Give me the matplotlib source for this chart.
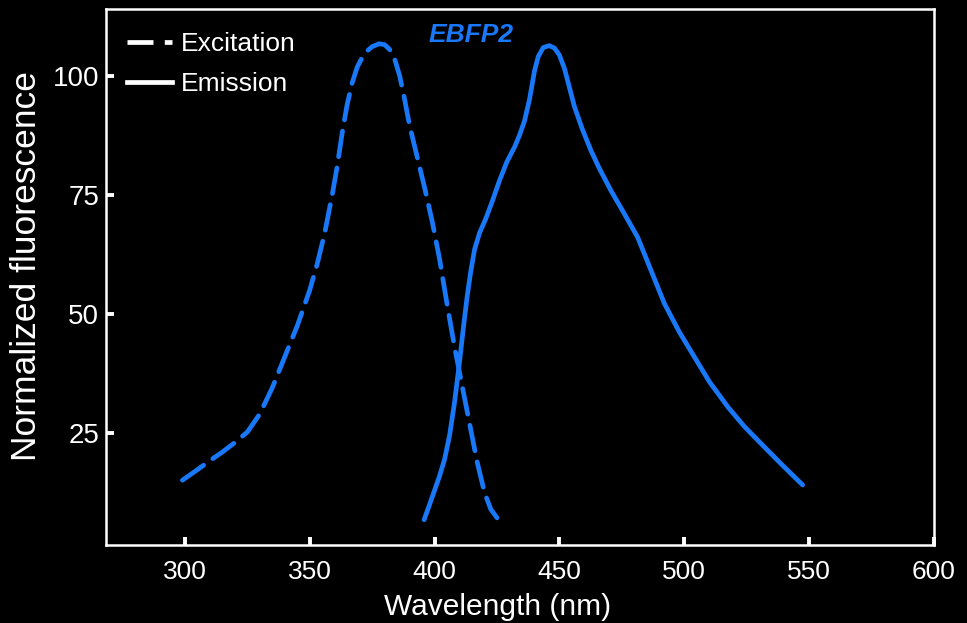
import matplotlib
matplotlib.use("Agg")
import matplotlib.pyplot as plt
from matplotlib.lines import Line2D

# excitation spectrum (dashed)
ex_nm = [299, 305, 310, 315, 320, 325, 330, 335, 340, 345, 350, 353, 356,
         359, 361, 363, 365, 367, 369, 371, 373, 375, 377.8, 380, 382, 384,
         386, 388, 390, 393, 396, 399, 402, 405, 408, 411, 414, 417, 420,
         422.5, 425]
ex_val = [15.1, 17.3, 19.2, 21.0, 23.0, 25.2, 29.0, 34.5, 41.0, 47.5, 55.0,
          60.5, 67.0, 75.0, 81.0, 88.0, 94.0, 98.5, 101.8, 103.8, 105.2,
          106.1, 106.7, 106.5, 105.5, 103.5, 100.0, 95.0, 89.5, 83.0, 76.5,
          69.5, 61.5, 52.0, 43.0, 35.0, 27.0, 19.0, 12.5, 9.0, 7.2]

# emission spectrum (solid)
em_nm = [395.8, 398, 400, 402, 404, 406, 408, 410, 411.5, 413, 414.5, 416,
         418, 420.5, 423, 426, 429, 432, 434, 436, 438, 440, 441.5, 443.5,
         445.9, 448, 450, 452, 454, 456, 459, 462.6, 466, 470.6, 476, 481.3,
         486, 492, 498, 504, 510, 517.4, 524, 530.7, 539, 547.4]
em_val = [6.8, 10.0, 13.0, 16.0, 19.5, 24.5, 31.5, 40.0, 47.0, 53.5, 59.0,
          63.5, 67.0, 70.0, 73.5, 78.0, 82.0, 85.0, 87.5, 90.5, 95.0, 101.0,
          104.0, 105.9, 106.3, 105.8, 104.3, 101.5, 97.5, 93.5, 89.0, 84.3,
          80.5, 75.9, 71.0, 66.1, 60.0, 52.2, 46.2, 41.0, 35.8, 30.5, 26.4,
          22.8, 18.4, 14.1]

x_ticks = [300, 350, 400, 450, 500, 550, 600]
y_ticks = [25, 50, 75, 100]

blue = "#1878f8"
font = ["Liberation Sans", "DejaVu Sans"]
dash = (5.5, 2.4)
lw = 3.4

fig = plt.figure(figsize=(9.67, 6.23), dpi=100, facecolor="black")
ax = fig.add_axes([0.1096, 0.1252, 0.8563, 0.8604], facecolor="black")

ax.plot(ex_nm, ex_val, color=blue, lw=lw, dashes=dash,
        dash_capstyle="round", dash_joinstyle="round")
ax.plot(em_nm, em_val, color=blue, lw=lw, solid_capstyle="round",
        solid_joinstyle="round")

ax.set_xlim(268.4, 600)
ax.set_ylim(1.5, 114)
ax.set_xticks(x_ticks)
ax.set_yticks(y_ticks)

for s in ax.spines.values():
    s.set_color("white")
    s.set_linewidth(1.8)

ax.tick_params(direction="in", length=6, width=2.8, color="white",
               labelcolor="white")
ax.tick_params(axis="x", pad=10.5)
ax.tick_params(axis="y", pad=5)
for lab in ax.get_xticklabels():
    lab.set_fontfamily(font)
    lab.set_fontsize(19)
for lab in ax.get_yticklabels():
    lab.set_fontfamily(font)
    lab.set_fontsize(20)

ax.set_xlabel("Wavelength (nm)", color="white", fontsize=21.5, family=font)
ax.xaxis.set_label_coords(0.473, -0.09)
ax.set_ylabel("Normalized fluorescence", color="white", fontsize=25.5,
              family=font)
ax.yaxis.set_label_coords(-0.076, 0.52)

ax.text(414.5, 108.5, "EBFP2", color=blue, fontsize=19, family=font,
        style="italic", weight="bold", ha="center", va="center")

handles = [Line2D([], [], color="white", lw=lw, dashes=dash),
           Line2D([], [], color="white", lw=lw)]
ax.legend(handles, ["Excitation", "Emission"], loc="upper left",
          bbox_to_anchor=(0.025, 0.957), frameon=False, borderpad=0,
          borderaxespad=0, handlelength=1.7, handletextpad=0.34,
          labelspacing=0.61, labelcolor="white",
          prop={"family": font, "size": 19})

fig.savefig("out.png", dpi=100, facecolor="black")
